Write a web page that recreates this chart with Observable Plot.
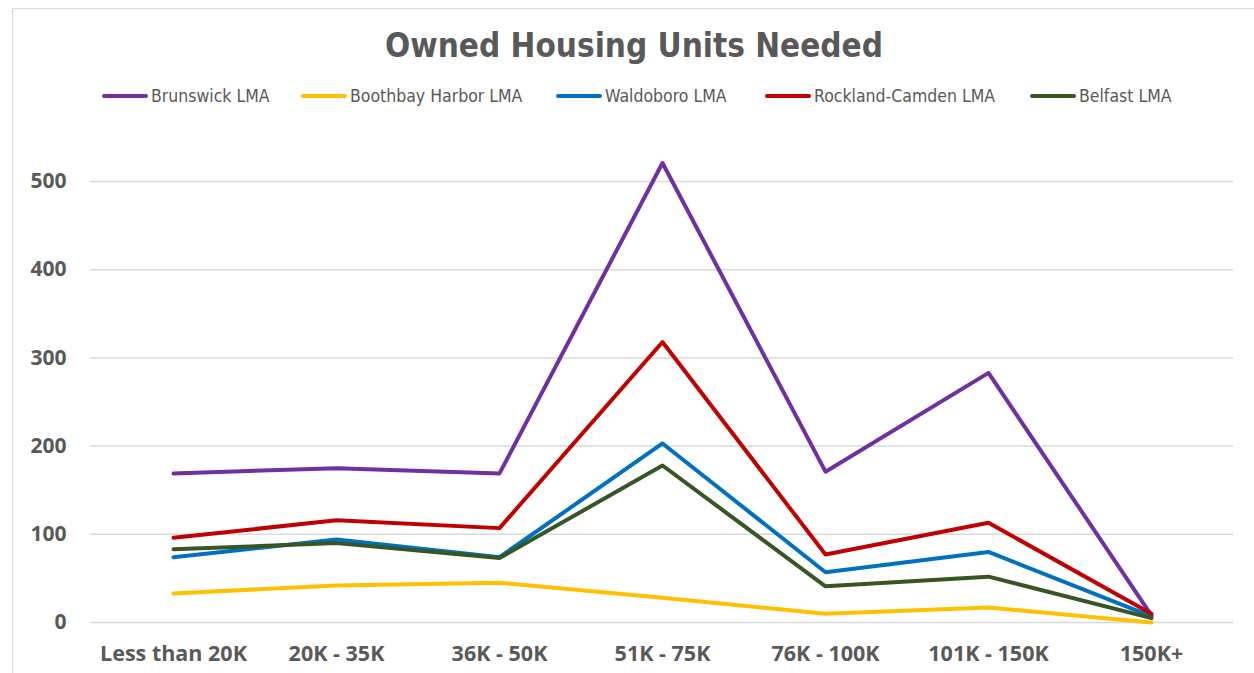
<!DOCTYPE html>
<html>
<head>
<meta charset="utf-8">
<script src="https://cdn.jsdelivr.net/npm/d3@7"></script>
<script src="https://cdn.jsdelivr.net/npm/@observablehq/plot@0.6"></script>
<style>
  html, body { margin: 0; padding: 0; background: #fff; }
  #wrap { position: relative; width: 1254px; height: 673px; overflow: hidden; }
  #frame { position: absolute; left: 12px; top: 8px; width: 1300px; height: 700px; border: 1.5px solid #d9d9d9; box-sizing: border-box; }
  #title { position: absolute; top: 26px; left: 0; width: 1268px; text-align: center;
           font-family: "Liberation Sans Narrow", "DejaVu Sans Condensed", "Open Sans", sans-serif;
           font-weight: bold; font-size: 33px; color: #595959; }
  #legend { position: absolute; top: 85px; left: 0; width: 1254px; height: 22px;
            font-family: "Liberation Sans Narrow", "DejaVu Sans Condensed", "Open Sans", sans-serif;
            font-size: 17.5px; color: #595959; }
  .item { position: absolute; top: 0; display: flex; align-items: center; height: 22px; }
  .sw { width: 46px; height: 4px; border-radius: 2px; margin-right: 3px; }
  #chart { position: absolute; top: 130px; left: 0; }
</style>
</head>
<body>
<div id="wrap">
  <div id="frame"></div>
  <div id="title">Owned Housing Units Needed</div>
  <div id="legend"></div>
  <div id="chart"></div>
</div>
<script>
const categories = ["Less than 20K", "20K - 35K", "36K - 50K", "51K - 75K", "76K - 100K", "101K - 150K", "150K+"];
const seriesNames = ["Brunswick LMA", "Boothbay Harbor LMA", "Waldoboro LMA", "Rockland-Camden LMA", "Belfast LMA"];
const seriesColors = ["#7030A0", "#FFC000", "#0070C0", "#C00000", "#375623"];
const brunswick = [169, 175, 169, 521, 171, 283, 8];
const boothbay = [33, 42, 45, 28, 10, 17, 0];
const waldoboro = [74, 94, 74, 203, 57, 80, 7];
const rockland = [96, 116, 107, 318, 77, 113, 10];
const belfast = [83, 90, 73, 178, 41, 52, 5];
const yTicks = [0, 100, 200, 300, 400, 500];
const legendX = [102, 301, 556, 765, 1030];

const allSeries = [brunswick, boothbay, waldoboro, rockland, belfast];
const data = [];
allSeries.forEach((vals, si) => {
  vals.forEach((v, ci) => data.push({series: seriesNames[si], category: categories[ci], value: v}));
});

// Legend
const legend = document.getElementById("legend");
seriesNames.forEach((name, i) => {
  const it = document.createElement("div");
  it.className = "item";
  it.style.left = legendX[i] + "px";
  const sw = document.createElement("div");
  sw.className = "sw";
  sw.style.background = seriesColors[i];
  const tx = document.createElement("span");
  tx.textContent = name;
  it.appendChild(sw);
  it.appendChild(tx);
  legend.appendChild(it);
});

const chart = Plot.plot({
  width: 1254,
  height: 543,
  marginLeft: 90,
  marginRight: 21,
  marginTop: 51,
  marginBottom: 51,
  style: {fontFamily: "'Open Sans', sans-serif", fontWeight: "bold", color: "#595959", background: "transparent", overflow: "visible"},
  x: {type: "point", domain: categories, padding: 0.5, label: null},
  y: {domain: [0, 500], label: null},
  color: {domain: seriesNames, range: seriesColors},
  marks: [
    Plot.ruleY(yTicks, {stroke: "#d9d9d9", strokeWidth: 1.5}),
    Plot.axisY(yTicks, {tickSize: 0, tickPadding: 24, label: null, fill: "#595959", fontSize: 21, fontWeight: "bold"}),
    Plot.axisX({tickSize: 0, tickPadding: 23, label: null, fill: "#595959", fontSize: 21.5, fontWeight: "bold"}),
    Plot.line(data, {x: "category", y: "value", z: "series", stroke: "series", strokeWidth: 4, clip: false})
  ]
});
document.getElementById("chart").appendChild(chart);
</script>
</body>
</html>
